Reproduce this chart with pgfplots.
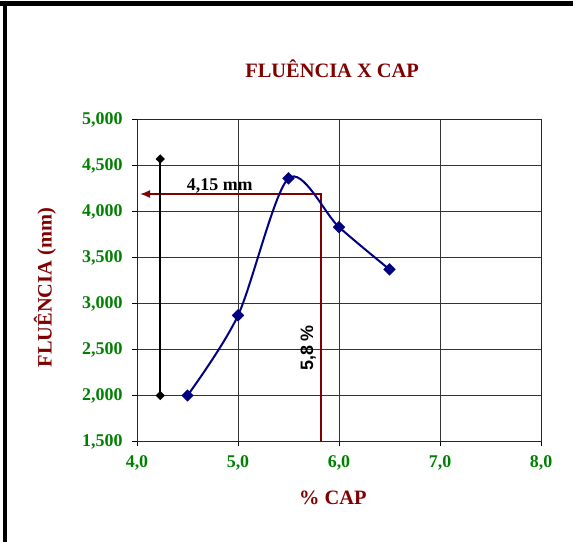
\documentclass[border=0pt]{standalone}
\usepackage{fontspec}
\setmainfont{Liberation Serif}
\newfontfamily\arialfont{Liberation Sans}
\usepackage{pgfplots}
\pgfplotsset{compat=1.18}
\usetikzlibrary{arrows.meta}
\definecolor{maroonc}{RGB}{128,0,0}
\definecolor{navyb}{RGB}{0,0,128}
\definecolor{xlgreen}{RGB}{0,128,0}
\begin{document}
\begin{tikzpicture}[x=1bp,y=1bp]
\useasboundingbox (0,0) rectangle (573,542);
\fill[black] (0,536) rectangle (573,541);
\fill[black] (3.3,0) rectangle (7.3,541);
\begin{axis}[
  at={(137bp,100.5bp)}, anchor=south west,
  scale only axis, width=404bp, height=322bp,
  xmin=4, xmax=8, ymin=1.5, ymax=5,
  xtick={4,5,6,7,8}, ytick={1.5,2,2.5,3,3.5,4,4.5,5},
  xtick pos=bottom, ytick pos=left,
  grid=major, grid style={black!80, line width=1bp},
  axis line style={black!85, line width=1bp},
  tick align=outside, major tick length=5bp, tick style={black, line width=1bp},
  /pgf/number format/assume math mode=true,
  xticklabel style={yshift=-6bp, /pgf/number format/.cd, fixed, fixed zerofill, precision=1, use comma},
  yticklabel style={xshift=-6bp, /pgf/number format/.cd, fixed, fixed zerofill, precision=3, use comma},
  ticklabel style={font=\fontsize{18}{20}\selectfont\bfseries, text=xlgreen},
  title={FLUÊNCIA X CAP},
  title style={at={(0.483,1.14)}, anchor=center, font=\fontsize{20.5}{22}\selectfont\bfseries, text=maroonc},
  xlabel={\% CAP},
  xlabel style={at={(0.485,-0.174)}, anchor=center, font=\fontsize{20.5}{22}\selectfont\bfseries, text=maroonc},
  ylabel={FLUÊNCIA (mm)},
  ylabel style={at={(-0.228,0.478)}, anchor=center, font=\fontsize{20.5}{22}\selectfont\bfseries, text=maroonc},
  clip=false,
]
\addplot[maroonc, line width=1.5bp, -{Latex[length=10bp,width=8bp]}] coordinates {(5.82,1.5) (5.82,4.19) (4.03,4.19)};
\addplot[black, line width=1.5bp, mark=square*, mark size=2.5bp, mark options={rotate=45, solid}] coordinates {(4.23,2.0) (4.23,4.57)};
\addplot[navyb, line width=2bp, smooth, tension=0.5, mark=square*, mark size=3.4bp, mark options={rotate=45, solid, fill=navyb}] coordinates {(4.5,2.0) (5.0,2.87) (5.5,4.36) (6.0,3.83) (6.5,3.37)};
\node[anchor=base, font=\fontsize{18}{20}\selectfont\bfseries] at (axis cs:4.82,4.23) {4,15 mm};
\node[anchor=base, rotate=90, font=\fontsize{18}{20}\selectfont\arialfont\bfseries] at (axis cs:5.743,2.516) {5,8 \%};
\end{axis}
\end{tikzpicture}
\end{document}
